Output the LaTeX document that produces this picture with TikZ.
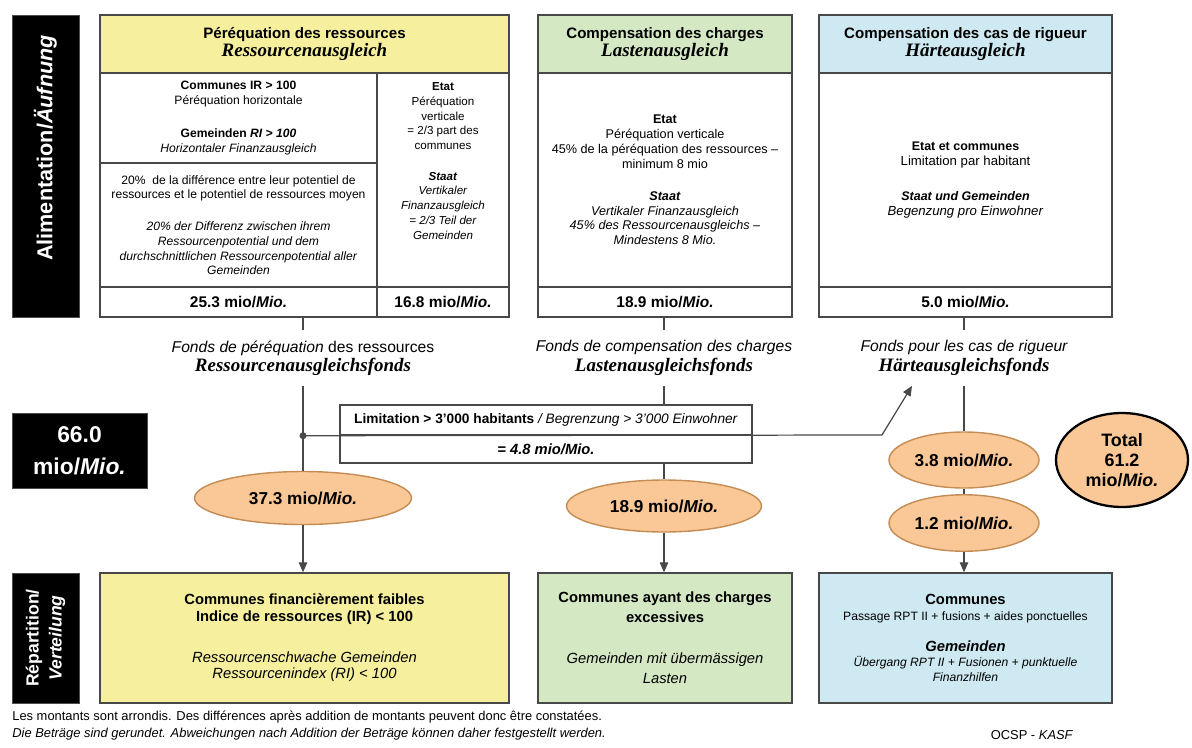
\documentclass[tikz,border=0pt]{standalone}
\usepackage{fontspec}
\setmainfont{Liberation Sans}
\newfontfamily\germserif{Liberation Serif}
\newcommand\germhead{\germserif\bfseries\itshape}
\usetikzlibrary{fit,shapes.geometric,arrows.meta,calc}
\definecolor{ressyellow}{RGB}{246,240,158}
\definecolor{lastgreen}{RGB}{213,232,196}
\definecolor{haerteblue}{RGB}{206,233,241}
\definecolor{potorange}{RGB}{249,200,150}
\definecolor{potedge}{RGB}{196,140,84}
\definecolor{rulegray}{RGB}{72,72,72}
\tikzset{
  cell/.style={draw=rulegray,line width=.8pt,inner sep=0pt},
  celltext/.style={align=center,inner sep=0pt,font=\fontsize{6.9}{8.3}\selectfont},
  headtext/.style={celltext,font=\bfseries\fontsize{8.6}{10.5}\selectfont},
  amounttext/.style={celltext,font=\bfseries\fontsize{8.8}{10}\selectfont},
  disttext/.style={celltext,font=\fontsize{8.4}{9.4}\selectfont},
  sidebar/.style={fill=black,draw=black!70,inner sep=0pt},
  sidebarlabel/.style={text=white,align=center,inner sep=0pt,font=\bfseries\fontsize{12.3}{14}\selectfont},
  fundlabel/.style={align=center,inner sep=0pt,minimum height=1.1cm,font=\itshape\fontsize{8.9}{11}\selectfont},
  pot/.style={ellipse,draw=potedge,fill=potorange,line width=.8pt,inner sep=0pt,align=center,font=\bfseries\fontsize{9.8}{11}\selectfont},
  totalpot/.style={pot,draw=black,line width=1.3pt,font=\bfseries\fontsize{10.2}{11.4}\selectfont},
  flow/.style={draw=rulegray,line width=.7pt},
  flowarr/.style={flow,-{Triangle[length=2mm,width=1.7mm]}},
  note/.style={anchor=west,inner sep=0pt,font=\fontsize{7.35}{8.5}\selectfont}
}
\begin{document}
\begin{tikzpicture}[x=0.02cm,y=-0.02cm]
  \useasboundingbox (0,0) rectangle (1192,747);

  % side labels
  \node[sidebar,fit={(12,15) (79,317)}] (alim) {};
  \node[sidebarlabel,rotate=90] (alimtxt) at (alim.center |- 0,148) {Alimentation/\textit{Äufnung}};
  \node[sidebar,fit={(12,573) (79,703)}] (repart) {};
  \node[sidebarlabel,rotate=90,font=\bfseries\fontsize{10}{13}\selectfont] (reparttxt) at (repart.center) {Répartition/\\\textit{Verteilung}};
  \node[sidebar,fit={(12,413) (147,488)}] (alimtotal) {};
  \node[sidebarlabel,font=\bfseries\fontsize{13}{18.5}\selectfont] (alimtotaltxt) at (alimtotal.center) {66.0\\mio/\textit{Mio.}};

  % resources column
  \node[cell,fill=ressyellow,fit={(100,15) (509,73)}] (reshead) {};
  \node[cell,fit={(100,73) (377,163)}] (rescom) {};
  \node[cell,fit={(100,163) (377,287)}] (respct) {};
  \node[cell,fit={(377,73) (509,287)}] (resetat) {};
  \node[cell,fit={(100,287) (377,317)}] (resamt) {};
  \node[cell,fit={(377,287) (509,317)}] (resetatamt) {};
  \node[headtext] (resheadtxt) at (reshead.center)
    {Péréquation des ressources\\{\germhead\fontsize{10.8}{10.5}\selectfont Ressourcenausgleich}};
  \node[celltext] (rescomtxt) at (rescom.center)
    {\textbf{Communes IR > 100}\\Péréquation horizontale\\[11pt]\textbf{Gemeinden \textit{RI > 100}}\\\textit{Horizontaler Finanzausgleich}};
  \node[celltext] (respcttxt) at (respct.center)
    {20\%\ \ de la différence entre leur potentiel de\\ressources et le potentiel de ressources moyen\\[10pt]
     \textit{20\% der Differenz zwischen ihrem}\\\textit{Ressourcenpotential und dem}\\\textit{durchschnittlichen Ressourcenpotential aller}\\\textit{Gemeinden}};
  \node[celltext,font=\fontsize{6.6}{8.4}\selectfont] (resetattxt) at (443,161)
    {\textbf{Etat}\\Péréquation\\verticale\\= 2/3 part des\\communes\\[9pt]
     \textbf{\textit{Staat}}\\\textit{Vertikaler}\\\textit{Finanzausgleich}\\\textit{= 2/3 Teil der}\\\textit{Gemeinden}};
  \node[amounttext] (resamttxt) at (resamt.center) {25.3 mio/\textit{Mio.}};
  \node[amounttext] (resetatamttxt) at (resetatamt.center) {16.8 mio/\textit{Mio.}};

  % charges column
  \node[cell,fill=lastgreen,fit={(538,15) (792,73)}] (lasthead) {};
  \node[cell,fit={(538,73) (792,287)}] (lastbody) {};
  \node[cell,fit={(538,287) (792,317)}] (lastamt) {};
  \node[headtext] (lastheadtxt) at (lasthead.center)
    {Compensation des charges\\{\germhead\fontsize{10.8}{10.5}\selectfont Lastenausgleich}};
  \node[celltext,font=\fontsize{7.2}{8.4}\selectfont] (lastbodytxt) at (lastbody.center)
    {\textbf{Etat}\\Péréquation verticale\\45\% de la péréquation des ressources –\\minimum 8 mio\\[10pt]
     \textbf{\textit{Staat}}\\\textit{Vertikaler Finanzausgleich}\\\textit{45\% des Ressourcenausgleichs –}\\\textit{Mindestens 8 Mio.}};
  \node[amounttext] (lastamttxt) at (lastamt.center) {18.9 mio/\textit{Mio.}};

  % hardship column
  \node[cell,fill=haerteblue,fit={(819,15) (1112,73)}] (haertehead) {};
  \node[cell,fit={(819,73) (1112,287)}] (haertebody) {};
  \node[cell,fit={(819,287) (1112,317)}] (haerteamt) {};
  \node[headtext] (haerteheadtxt) at (haertehead.center)
    {Compensation des cas de rigueur\\{\germhead\fontsize{10.8}{10.5}\selectfont Härteausgleich}};
  \node[celltext,font=\fontsize{7.5}{8.2}\selectfont] (haertebodytxt) at (haertebody.center)
    {{\bfseries\fontsize{7.1}{8.2}\selectfont Etat et communes}\\Limitation par habitant\\[12pt]
     {\bfseries\itshape\fontsize{7.1}{8.2}\selectfont Staat und Gemeinden}\\\textit{Begenzung pro Einwohner}};
  \node[amounttext] (haerteamttxt) at (haerteamt.center) {5.0 mio/\textit{Mio.}};

  % funds
  \node[fundlabel] (resfund) at (303,358)
    {Fonds de péréquation \textup{des ressources}\\{\germhead\fontsize{10.8}{11.5}\selectfont Ressourcenausgleichsfonds}};
  \node[fundlabel] (lastfund) at (664,358)
    {Fonds de compensation des charges\\{\germhead\fontsize{10.8}{11.5}\selectfont Lastenausgleichsfonds}};
  \node[fundlabel] (hfund) at (964,358)
    {Fonds pour les cas de rigueur\\{\germhead\fontsize{10.8}{11.5}\selectfont Härteausgleichsfonds}};

  % limitation box
  \node[cell,fit={(340,405) (752,435)}] (limtop) {};
  \node[cell,fit={(340,435) (752,463)}] (limbot) {};
  \node[celltext,font=\fontsize{7.8}{9}\selectfont] (limtoptxt) at (limtop.center)
    {\textbf{Limitation > 3'000 habitants} \textit{/ Begrenzung > 3'000 Einwohner}};
  \node[celltext,font=\bfseries\itshape\fontsize{8.4}{9}\selectfont] (limbottxt) at (limbot.center) {= 4.8 mio/Mio.};

  % amounts distributed
  \node[pot,minimum width=4.34cm,minimum height=1.06cm] (respot) at (303,498) {37.3 mio/\textit{Mio.}};
  \node[pot,minimum width=3.9cm,minimum height=1.04cm] (lastpot) at (664,506) {18.9 mio/\textit{Mio.}};
  \node[pot,minimum width=3.0cm,minimum height=1.12cm] (hpotA) at (964,460) {3.8 mio/\textit{Mio.}};
  \node[pot,minimum width=3.0cm,minimum height=1.13cm] (hpotB) at (964,523) {1.2 mio/\textit{Mio.}};
  \node[totalpot,minimum width=2.64cm,minimum height=1.88cm] (totalpot) at (1122,460) {Total\\61.2\\mio/\textit{Mio.}};

  % beneficiaries
  \node[cell,fill=ressyellow,fit={(100,573) (509,703)}] (resdist) {};
  \node[cell,fill=lastgreen,fit={(538,573) (792,703)}] (lastdist) {};
  \node[cell,fill=haerteblue,fit={(819,573) (1112,703)}] (haertedist) {};
  \node[disttext] (resdisttxt) at (resdist.center)
    {\textbf{Communes financièrement faibles}\\\textbf{Indice de ressources (IR) < 100}\\[14pt]
     \textit{Ressourcenschwache Gemeinden}\\\textit{Ressourcenindex (RI) < 100}};
  \node[disttext,font=\fontsize{8.4}{11.3}\selectfont] (lastdisttxt) at (lastdist.center)
    {\textbf{Communes ayant des charges}\\\textbf{excessives}\\[12pt]
     \textit{Gemeinden mit übermässigen}\\\textit{Lasten}};
  \node[disttext,font=\fontsize{6.9}{8.6}\selectfont] (haertedisttxt) at (haertedist.center)
    {{\bfseries\fontsize{8.4}{9}\selectfont Communes}\\Passage RPT II + fusions + aides ponctuelles\\[9pt]
     {\bfseries\itshape\fontsize{8.4}{9}\selectfont Gemeinden}\\\textit{Übergang RPT II + Fusionen + punktuelle}\\\textit{Finanzhilfen}};

  % flows
  \draw[flow] (resamt.south -| resfund) -- (resfund.north);
  \draw[flow] (resfund.south) -- (respot.north);
  \coordinate (split) at (resfund.south |- limtop.south);
  \coordinate (bend) at (882,435);
  \fill[rulegray] (split) circle (2pt);
  \draw[flowarr] (split) -- (bend) -- ($(hfund.south)+(-52,0)$);
  \draw[flowarr] (respot.south) -- (respot.south |- resdist.north);

  \draw[flow] (lastamt.south -| lastfund) -- (lastfund.north);
  \draw[flow] (lastfund.south) -- (lastfund.south |- limtop.north);
  \draw[flow] (limbot.south -| lastpot) -- (lastpot.north);
  \draw[flowarr] (lastpot.south) -- (lastpot.south |- lastdist.north);

  \draw[flow] (haerteamt.south -| hfund) -- (hfund.north);
  \draw[flow] (hfund.south) -- (hpotA.north);
  \draw[flow] (hpotA.south) -- (hpotB.north);
  \draw[flowarr] (hpotB.south) -- (hpotB.south |- haertedist.north);

  % notes
  \node[note] (notefr) at (12,717) {Les montants sont arrondis. Des différences après addition de montants peuvent donc être constatées.};
  \node[note,font=\itshape\fontsize{7.35}{8.5}\selectfont] (notede) at (12,734) {Die Beträge sind gerundet. Abweichungen nach Addition der Beträge können daher festgestellt werden.};
  \node[note,anchor=center] (source) at (1032,735) {OCSP - \textit{KASF}};
\end{tikzpicture}
\end{document}
